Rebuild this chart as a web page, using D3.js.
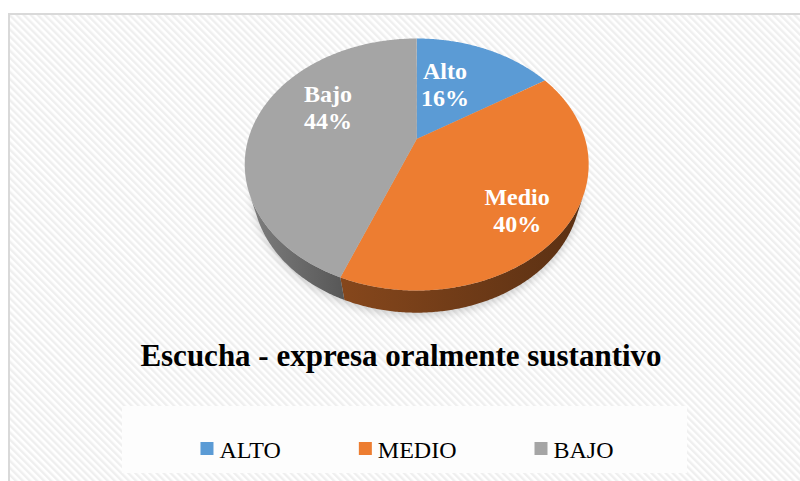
<!DOCTYPE html>
<html><head><meta charset="utf-8">
<script src="https://cdn.jsdelivr.net/npm/d3@7"></script>
<style>html,body{margin:0;padding:0;background:#fff;}svg{display:block;}</style>
</head><body>
<svg id="c" width="800" height="481"></svg>
<script>
// ---- data ----
const categories = ["Alto", "Medio", "Bajo"];
const values = [16, 40, 44];
const legendLabels = ["ALTO", "MEDIO", "BAJO"];
const title = "Escucha - expresa oralmente sustantivo";

// ---- style ----
const colors = ["#5b9bd5", "#ed7d31", "#a5a5a5"];
const sideShade = [[1.2, 2.4], [1.6, 2.7], [0.75, 1.8]];
const labelNudge = [[-17, 5], [13, 20], [11.5, -18]];
const serif = "'Liberation Serif','Times New Roman',serif";

const svg = d3.select("#c");
const defs = svg.append("defs");

// hatch background
const pat = defs.append("pattern").attr("id", "hatch").attr("patternUnits", "userSpaceOnUse")
  .attr("width", 5).attr("height", 5).attr("patternTransform", "rotate(-45)");
pat.append("rect").attr("width", 5).attr("height", 5).attr("fill", "#ffffff");
pat.append("rect").attr("width", 2.4).attr("height", 5).attr("fill", "#efefef");

svg.append("rect").attr("x", 9).attr("y", 14).attr("width", 820).attr("height", 500)
  .attr("fill", "url(#hatch)").attr("stroke", "#d9d9d9").attr("stroke-width", 2);

// ---- 3D pie projection ----
const cx = 416.7, cy = 139, F = 579.5, D = 1, R = 0.2906, h = 0.0634;
const sinA = 0.7176, cosA = Math.sqrt(1 - sinA * sinA);
function proj(theta, r, Y) {
  const X = r * Math.sin(theta), Z = -r * Math.cos(theta);
  const yc = Y * cosA - Z * sinA;
  const d = D - Z * cosA - Y * sinA;
  return [cx + F * X / d, cy - F * yc / d];
}
const pie = d3.pie().sort(null).value(d => d)(values);
const total = d3.sum(values);
const line = d3.line();
const step = Math.PI / 360;
function arcPts(a0, a1, r, Y) {
  const n = Math.max(2, Math.ceil((a1 - a0) / step));
  return d3.range(n + 1).map(i => proj(a0 + (a1 - a0) * i / n, r, Y));
}

// shadow
const blur = defs.append("filter").attr("id", "blur").attr("x", "-20%").attr("y", "-20%").attr("width", "140%").attr("height", "140%");
blur.append("feGaussianBlur").attr("stdDeviation", 4);
svg.append("path").attr("d", line(arcPts(0, 2 * Math.PI, R, -h)) + "Z")
  .attr("transform", "translate(0,3)")
  .attr("fill", "#000").attr("opacity", 0.18).attr("filter", "url(#blur)");

// visible side range
const vis = Math.acos(-R / (D * cosA));
const vis0 = vis, vis1 = 2 * Math.PI - vis;

pie.forEach((s, i) => {
  const a0 = Math.max(s.startAngle, vis0), a1 = Math.min(s.endAngle, vis1);
  if (a1 <= a0) return;
  const base = d3.color(colors[i]);
  const gid = "side" + i;
  const g = defs.append("linearGradient").attr("id", gid).attr("x1", 0).attr("x2", 1).attr("y1", 0).attr("y2", 0);
  g.append("stop").attr("offset", "0%").attr("stop-color", base.darker(sideShade[i][0]).formatHex());
  g.append("stop").attr("offset", "100%").attr("stop-color", base.darker(sideShade[i][1]).formatHex());
  const pts = arcPts(a0, a1, R, 0).concat(arcPts(a0, a1, R, -h).reverse());
  svg.append("path").attr("d", line(pts) + "Z").attr("fill", "url(#" + gid + ")");
});

// top faces
pie.forEach((s, i) => {
  const pts = [proj(0, 0, 0)].concat(arcPts(s.startAngle, s.endAngle, R, 0));
  svg.append("path").attr("d", line(pts) + "Z").attr("fill", colors[i]);
});

// data labels
pie.forEach((s, i) => {
  const mid = (s.startAngle + s.endAngle) / 2;
  const p = proj(mid, R * 0.62, 0);
  const ax = p[0] + labelNudge[i][0], ay = p[1] + labelNudge[i][1];
  const t = svg.append("text").attr("text-anchor", "middle").attr("fill", "#fff")
    .attr("font-family", serif).attr("font-weight", "bold").attr("font-size", 24);
  t.append("tspan").attr("x", ax).attr("y", ay - 5.5).text(categories[i]);
  t.append("tspan").attr("x", ax).attr("y", ay + 21.5).text(Math.round(values[i] / total * 100) + "%");
});

// title
svg.append("text").attr("x", 401).attr("y", 366).attr("text-anchor", "middle")
  .attr("font-family", serif).attr("font-weight", "bold").attr("font-size", 31)
  .attr("fill", "#000").text(title);

// legend
svg.append("rect").attr("x", 122).attr("y", 406).attr("width", 565).attr("height", 67)
  .attr("fill", "#fdfdfd");
const lg = svg.append("g");
let x = 0;
legendLabels.forEach((lab, i) => {
  const it = lg.append("g").attr("transform", `translate(${x},0)`);
  it.append("rect").attr("x", 0).attr("y", 442).attr("width", 13).attr("height", 13).attr("fill", colors[i]);
  const tx = it.append("text").attr("x", 19).attr("y", 458).attr("font-family", serif)
    .attr("font-size", 24).attr("fill", "#000").text(lab);
  x += 19 + tx.node().getComputedTextLength() + 78;
});
const lw = x - 78;
lg.attr("transform", `translate(${407 - lw / 2},0)`);
</script>
</body></html>
